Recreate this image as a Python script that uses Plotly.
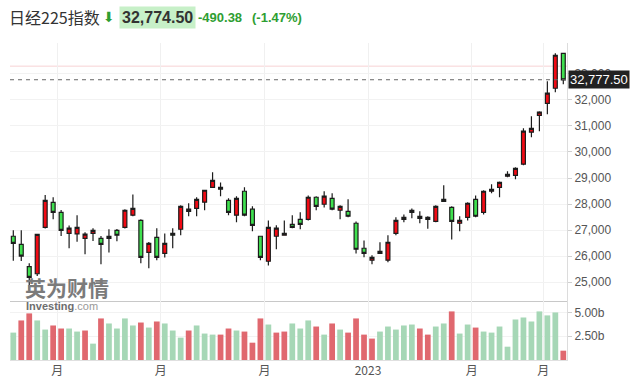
import pandas as pd
import plotly.graph_objects as go
from plotly.subplots import make_subplots

# ---------------- data (weekly candles) ----------------
dates = pd.date_range("2022-02-21", periods=70, freq="W-MON")

opens = [26760, 26450, 25590, 25320, 27100, 28060, 27680, 26870, 26850, 26680,
         26870, 26680, 26760, 26990, 27100, 27570, 27370, 26140, 26720, 26100,
         26870, 27030, 27720, 27830, 28070, 28640, 28640, 28140, 27570, 28490,
         27800, 26760, 25800, 26760, 26800, 27220, 27410, 27410, 28260, 27990,
         28220, 27760, 27720, 27260, 26300, 25840, 26180, 25840, 26870, 27410,
         27760, 27530, 27490, 27330, 28180, 27870, 27260, 27490, 28180, 27680,
         28490, 28640, 29070, 29100, 29530, 30760, 31410, 31870, 32450, 33790]
highs = [26990, 26990, 25720, 26840, 28350, 28260, 27770, 27170, 27570, 26910,
         27070, 26770, 27030, 27040, 27800, 28370, 27410, 26540, 27070, 26870,
         27070, 27950, 28030, 28260, 28540, 29220, 28830, 28220, 28300, 28640,
         27910, 26770, 27370, 27180, 27370, 27570, 27680, 28330, 28300, 28490,
         28410, 27950, 28180, 27330, 26600, 26030, 26530, 26800, 27490, 27600,
         27830, 27720, 27530, 27950, 28720, 27910, 27530, 28070, 28330, 28530,
         28760, 28870, 29260, 29410, 30910, 31370, 31570, 32720, 33800, 33800]
lows = [25820, 25810, 24700, 25230, 27060, 27410, 26770, 26300, 26550, 26070,
        26580, 25680, 26140, 26570, 27060, 27530, 25720, 25530, 25840, 25940,
        26300, 26800, 27530, 27530, 27760, 28640, 28300, 27570, 27300, 27530,
        26950, 25840, 25640, 26260, 26800, 27070, 27030, 27370, 27760, 27870,
        27760, 27410, 27490, 26100, 25950, 25680, 26090, 25760, 26800, 27300,
        27450, 27260, 27050, 27300, 28090, 26640, 26950, 27370, 27490, 27600,
        28410, 28260, 29030, 28950, 29490, 30570, 30800, 31450, 32300, 32600]
closes = [26490, 26000, 25180, 26830, 28140, 27680, 26990, 27070, 27100, 26840,
          26990, 26450, 26680, 26800, 27760, 27830, 25950, 26490, 25950, 26490,
          26800, 27910, 27800, 28180, 28530, 28910, 28570, 27680, 28220, 27570,
          27180, 25950, 27100, 27070, 26870, 27100, 27220, 28260, 27910, 28300,
          27800, 27910, 27530, 26260, 26100, 25950, 26100, 26530, 27370, 27490,
          27680, 27450, 27410, 27910, 28100, 27330, 27370, 28030, 27530, 28490,
          28560, 28830, 29140, 29370, 30800, 30910, 31530, 32260, 33720, 32774.5]
# volume in billions
volumes = [2.88, 4.16, 4.90, 4.16, 3.20, 3.63, 3.31, 3.31, 2.99, 3.10,
           1.72, 4.37, 3.84, 3.31, 4.37, 3.63, 3.94, 3.41, 4.05, 3.84,
           3.10, 2.35, 3.10, 3.63, 2.78, 2.67, 2.67, 3.31, 3.10, 2.99,
           1.82, 4.37, 3.73, 2.88, 2.99, 3.84, 3.31, 4.16, 3.52, 2.67,
           3.84, 3.20, 2.88, 4.37, 2.67, 2.25, 2.99, 3.52, 3.20, 3.63,
           3.73, 3.31, 2.67, 3.52, 3.84, 5.11, 2.78, 3.73, 3.41, 2.99,
           2.88, 3.52, 1.40, 4.26, 4.47, 4.05, 5.11, 4.69, 5.00, 0.98]

price_ticks = [25000, 26000, 27000, 28000, 29000, 30000, 31000, 32000, 33000]
volume_ticks = [2.5, 5.0]
volume_tick_labels = ["2.50b", "5.00b"]
tick_months = ["2022-04", "2022-07", "2022-10", "2023-01", "2023-04", "2023-06"]
tick_labels = ["月", "月", "月", "2023", "月", "月"]

title_name = "日经225指数"
title_price = "32,774.50"
title_change = "-490.38"
title_pct = "(-1.47%)"
last_price = 32777.50
marker_level = 33300

# ---------------- derived ----------------
UP_FILL = "#f10a14"
DOWN_FILL = "#3fe04f"
VOL_UP = "#a6d7b6"
VOL_DOWN = "#e0686f"

vol_colors = []
for i, c in enumerate(closes):
    if i == 0 or c >= closes[i - 1]:
        vol_colors.append(VOL_UP)
    else:
        vol_colors.append(VOL_DOWN)

tickvals = []
for m in tick_months:
    per = pd.Period(m, "M")
    idx = next(i for i, d in enumerate(dates) if d.to_period("M") == per)
    tickvals.append(dates[idx - 1] + (dates[idx] - dates[idx - 1]) / 2)

x_range = [dates[0] - pd.Timedelta(days=2.9), dates[-1] + pd.Timedelta(days=3.25)]

FONT = "Liberation Sans, Arial, sans-serif"
CJK = "Noto Sans CJK SC, Liberation Sans, sans-serif"

fig = make_subplots(rows=2, cols=1, shared_xaxes=True, vertical_spacing=0,
                    row_heights=[0.814, 0.186])

fig.add_trace(go.Candlestick(
    x=dates, open=opens, high=highs, low=lows, close=closes,
    increasing=dict(fillcolor=UP_FILL, line=dict(color="#1c1c1c", width=1.2)),
    decreasing=dict(fillcolor=DOWN_FILL, line=dict(color="#1c1c1c", width=1.2)),
    whiskerwidth=0, showlegend=False, hoverinfo="skip"), row=1, col=1)

fig.add_trace(go.Bar(x=dates, y=volumes, marker=dict(color=vol_colors, line=dict(width=0)),
                     showlegend=False, hoverinfo="skip"), row=2, col=1)

W, H = 631, 388
L, R, T, B = 10, 64, 43, 28
pw, ph = W - L - R, H - T - B

def px_x(px):
    return (px - L) / pw

def px_y(py):
    return (H - B - py) / ph

fig.update_layout(
    width=W, height=H, margin=dict(l=L, r=R, t=T, b=B, autoexpand=False),
    paper_bgcolor="white", plot_bgcolor="white",
    bargap=0.28, font=dict(family=FONT, size=12, color="#555"),
)

common_x = dict(range=x_range, tickvals=tickvals, ticktext=tick_labels,
                showgrid=True, gridcolor="#f0f0f0", gridwidth=1,
                rangeslider=dict(visible=False), zeroline=False, automargin=False)
fig.update_xaxes(**common_x)
fig.update_xaxes(showticklabels=False, showline=True, linecolor="#c8c8c8", linewidth=1,
                 ticks="", row=1, col=1)
fig.update_xaxes(showticklabels=True, showline=True, linecolor="#e0e0e0", linewidth=1,
                 ticks="", tickfont=dict(family=CJK, size=12, color="#555"), row=2, col=1)

fig.update_yaxes(side="right", range=[24270, 34190], tickvals=price_ticks, tickformat=",",
                 showgrid=True, gridcolor="#f2f2f2", zeroline=False, automargin=False,
                 showline=True, linecolor="#dcdcdc", ticks="outside", ticklen=4,
                 tickcolor="#d0d0d0", tickfont=dict(size=12, color="#555"), row=1, col=1)
fig.update_yaxes(side="right", range=[0, 6.2], tickvals=volume_ticks, ticktext=volume_tick_labels,
                 showgrid=True, gridcolor="#f2f2f2", zeroline=False, automargin=False,
                 showline=True, linecolor="#dcdcdc", ticks="outside", ticklen=4,
                 tickcolor="#d0d0d0", tickfont=dict(size=12, color="#555"), row=2, col=1)

# reference lines
fig.add_shape(type="line", xref="x domain", x0=0, x1=1, yref="y", y0=marker_level, y1=marker_level,
              line=dict(color="#f7d2d4", width=1), layer="below")
fig.add_shape(type="line", xref="x domain", x0=0, x1=1, yref="y", y0=last_price, y1=last_price,
              line=dict(color="#666", width=1, dash="4px,4px"))

# last-price label
fig.add_annotation(xref="paper", x=1, xanchor="left", xshift=1, yref="y", y=last_price,
                   text=f"{last_price:,.2f}", showarrow=False, bgcolor="#222",
                   font=dict(family=FONT, size=13, color="white"), borderpad=1)

# title row
fig.add_annotation(xref="paper", yref="paper", x=px_x(7), y=px_y(17), xanchor="left", yanchor="middle",
                   text=title_name, showarrow=False, font=dict(family=CJK, size=16, color="#333"))
fig.add_annotation(xref="paper", yref="paper", x=px_x(108.5), y=px_y(17), xanchor="center",
                   yanchor="middle", text="⬇", showarrow=False,
                   font=dict(family="DejaVu Sans", size=14, color="#2e9e32"))
fig.add_annotation(xref="paper", yref="paper", x=px_x(119), y=px_y(17), xanchor="left", yanchor="middle",
                   text=f"<b>{title_price}</b>", showarrow=False, bgcolor="#c7f0c8", borderpad=2,
                   font=dict(family=FONT, size=16, color="#333"))
fig.add_annotation(xref="paper", yref="paper", x=px_x(196), y=px_y(17), xanchor="left", yanchor="middle",
                   text=f"<b>{title_change}</b>", showarrow=False,
                   font=dict(family=FONT, size=13, color="#2e9e32"))
fig.add_annotation(xref="paper", yref="paper", x=px_x(250), y=px_y(17), xanchor="left", yanchor="middle",
                   text=f"<b>{title_pct}</b>", showarrow=False,
                   font=dict(family=FONT, size=13, color="#2e9e32"))

# watermark
fig.add_annotation(xref="paper", yref="paper", x=px_x(24), y=px_y(287), xanchor="left", yanchor="middle",
                   text="<b>英为财情</b>", showarrow=False, borderpad=0,
                   font=dict(family=CJK, size=21, color="#7b7b7b"))
fig.add_annotation(xref="paper", yref="paper", x=px_x(25), y=px_y(306), xanchor="left", yanchor="middle",
                   text="<b>Investing</b><span style='color:#999'>.com</span>", showarrow=False,
                   borderpad=0, font=dict(family=FONT, size=11, color="#6e6e6e"))

fig.write_html("out.html", config={"displayModeBar": False},
               post_script="document.body.style.margin='0';")
